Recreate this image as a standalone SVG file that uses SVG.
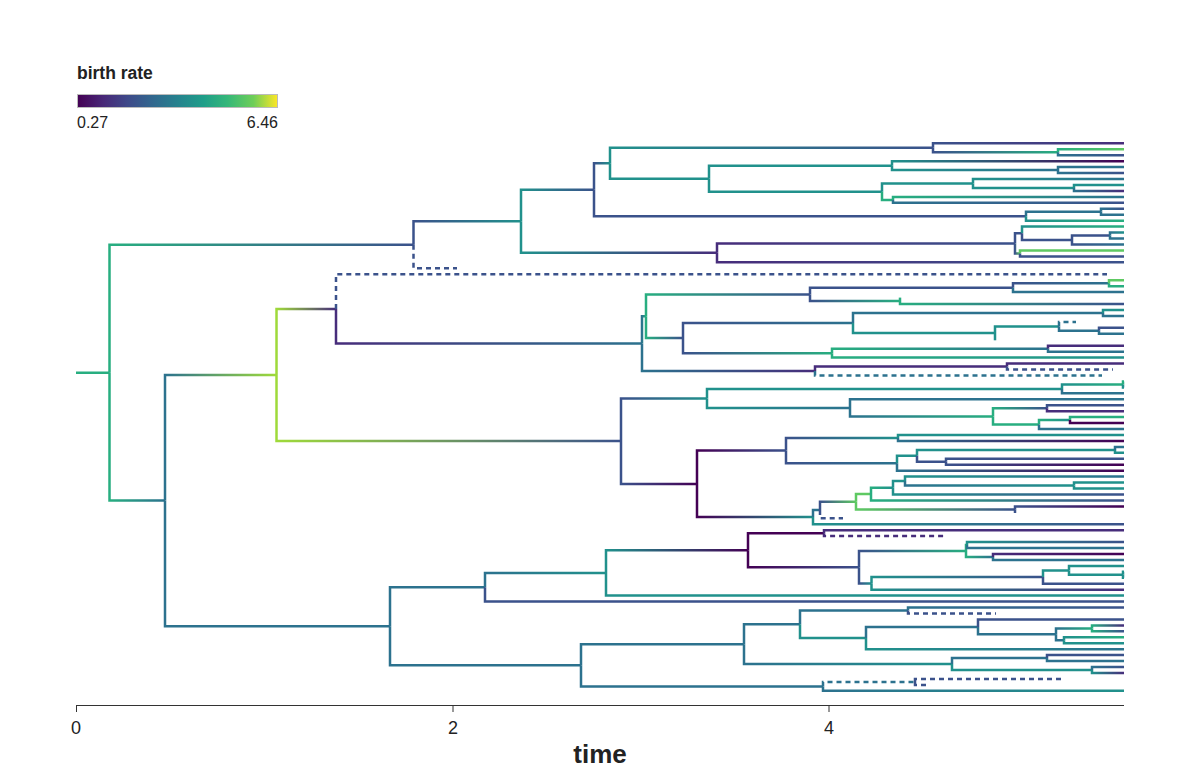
<svg xmlns="http://www.w3.org/2000/svg" width="1200" height="768" viewBox="0 0 1200 768">
<style>
.b{fill:none;stroke-width:2.5;stroke-linejoin:miter;stroke-linecap:butt}
.d{stroke-dasharray:5 4}
.t{font-family:"Liberation Sans",Arial,sans-serif;fill:#222}
.c0{stroke:#440154}.c1{stroke:#472d7b}.c2{stroke:#3b528b}.c3{stroke:#2c728e}.c4{stroke:#21918c}.c5{stroke:#28ae80}.c6{stroke:#5ec962}
</style>
<defs>
<linearGradient id="vir" x1="0" x2="1"><stop offset="0" stop-color="#440154"/><stop offset="0.13" stop-color="#482878"/><stop offset="0.25" stop-color="#3e4989"/><stop offset="0.38" stop-color="#31688e"/><stop offset="0.5" stop-color="#26828e"/><stop offset="0.63" stop-color="#1f9e89"/><stop offset="0.75" stop-color="#35b779"/><stop offset="0.88" stop-color="#6ece58"/><stop offset="1" stop-color="#fde725"/></linearGradient>
<linearGradient id="g52"><stop offset="0" stop-color="#28ae80"/><stop offset="1" stop-color="#3b528b"/></linearGradient>
<linearGradient id="g53"><stop offset="0" stop-color="#28ae80"/><stop offset="1" stop-color="#2c728e"/></linearGradient>
<linearGradient id="g54"><stop offset="0" stop-color="#28ae80"/><stop offset="1" stop-color="#21918c"/></linearGradient>
<linearGradient id="g51"><stop offset="0" stop-color="#28ae80"/><stop offset="1" stop-color="#472d7b"/></linearGradient>
<linearGradient id="g56"><stop offset="0" stop-color="#28ae80"/><stop offset="1" stop-color="#5ec962"/></linearGradient>
<linearGradient id="g24"><stop offset="0" stop-color="#3b528b"/><stop offset="1" stop-color="#21918c"/></linearGradient>
<linearGradient id="g23"><stop offset="0" stop-color="#3b528b"/><stop offset="1" stop-color="#2c728e"/></linearGradient>
<linearGradient id="g25"><stop offset="0" stop-color="#3b528b"/><stop offset="1" stop-color="#28ae80"/></linearGradient>
<linearGradient id="g26"><stop offset="0" stop-color="#3b528b"/><stop offset="1" stop-color="#5ec962"/></linearGradient>
<linearGradient id="g21"><stop offset="0" stop-color="#3b528b"/><stop offset="1" stop-color="#472d7b"/></linearGradient>
<linearGradient id="g20"><stop offset="0" stop-color="#3b528b"/><stop offset="1" stop-color="#440154"/></linearGradient>
<linearGradient id="g42"><stop offset="0" stop-color="#21918c"/><stop offset="1" stop-color="#3b528b"/></linearGradient>
<linearGradient id="g41"><stop offset="0" stop-color="#21918c"/><stop offset="1" stop-color="#472d7b"/></linearGradient>
<linearGradient id="g40"><stop offset="0" stop-color="#21918c"/><stop offset="1" stop-color="#440154"/></linearGradient>
<linearGradient id="g43"><stop offset="0" stop-color="#21918c"/><stop offset="1" stop-color="#2c728e"/></linearGradient>
<linearGradient id="g45"><stop offset="0" stop-color="#21918c"/><stop offset="1" stop-color="#28ae80"/></linearGradient>
<linearGradient id="g32"><stop offset="0" stop-color="#2c728e"/><stop offset="1" stop-color="#3b528b"/></linearGradient>
<linearGradient id="g31"><stop offset="0" stop-color="#2c728e"/><stop offset="1" stop-color="#472d7b"/></linearGradient>
<linearGradient id="g30"><stop offset="0" stop-color="#2c728e"/><stop offset="1" stop-color="#440154"/></linearGradient>
<linearGradient id="g34"><stop offset="0" stop-color="#2c728e"/><stop offset="1" stop-color="#21918c"/></linearGradient>
<linearGradient id="g35"><stop offset="0" stop-color="#2c728e"/><stop offset="1" stop-color="#28ae80"/></linearGradient>
<linearGradient id="g37"><stop offset="0" stop-color="#2c728e"/><stop offset="1" stop-color="#9fda3a"/></linearGradient>
<linearGradient id="g12"><stop offset="0" stop-color="#472d7b"/><stop offset="1" stop-color="#3b528b"/></linearGradient>
<linearGradient id="g13"><stop offset="0" stop-color="#472d7b"/><stop offset="1" stop-color="#2c728e"/></linearGradient>
<linearGradient id="g10"><stop offset="0" stop-color="#472d7b"/><stop offset="1" stop-color="#440154"/></linearGradient>
<linearGradient id="g71"><stop offset="0" stop-color="#9fda3a"/><stop offset="1" stop-color="#472d7b"/></linearGradient>
<linearGradient id="g72"><stop offset="0" stop-color="#9fda3a"/><stop offset="1" stop-color="#3b528b"/></linearGradient>
<linearGradient id="g02"><stop offset="0" stop-color="#440154"/><stop offset="1" stop-color="#3b528b"/></linearGradient>
<linearGradient id="g04"><stop offset="0" stop-color="#440154"/><stop offset="1" stop-color="#21918c"/></linearGradient>
<linearGradient id="g62"><stop offset="0" stop-color="#5ec962"/><stop offset="1" stop-color="#3b528b"/></linearGradient>
</defs>
<rect width="1200" height="768" fill="#ffffff"/>
<g id="legend">
<text class="t" x="77" y="79" font-size="17.5" font-weight="bold">birth rate</text>
<rect x="77.5" y="94.5" width="200" height="13" fill="url(#vir)" stroke="#bbbbbb" stroke-width="1"/>
<text class="t" x="77" y="128" font-size="16">0.27</text>
<text class="t" x="278" y="128" font-size="16" text-anchor="end">6.46</text>
</g>
<g id="axis">
<path d="M76 705.5H1124M76.5 705V712M453 705V712M829 705V712" stroke="#333" stroke-width="1" fill="none"/>
<text class="t" x="76" y="734" font-size="18" text-anchor="middle">0</text>
<text class="t" x="453" y="734" font-size="18" text-anchor="middle">2</text>
<text class="t" x="829" y="734" font-size="18" text-anchor="middle">4</text>
<text class="t" x="600" y="763" font-size="26" font-weight="bold" text-anchor="middle">time</text>
</g>
<g id="connectors" class="b">
<path class="c5" d="M76 372.7H109.5"/>
<path stroke="url(#g52)" d="M109.5 372.7V244.8H413.5"/>
<path stroke="url(#g53)" d="M109.5 372.7V500.6H165"/>
<g id="clade-top">
<path stroke="url(#g24)" d="M413.5 244.8V221.3H521"/>
<path class="c2 d" d="M413.5 244.8V268.3H457"/>
<path stroke="url(#g42)" d="M521 221.3V189.7H594"/>
<path stroke="url(#g41)" d="M521 221.3V252.8H717"/>
<path stroke="url(#g24)" d="M594 189.7V163.2H610"/>
<path class="c2" d="M594 189.7V216.2H1026"/>
<path stroke="url(#g42)" d="M610 163.2V147.8H933"/>
<path class="c4" d="M610 163.2V178.7H709"/>
<path stroke="url(#g21)" d="M933 147.8V143.3H1124"/>
<path stroke="url(#g25)" d="M933 147.8V152.3H1058"/>
<path stroke="url(#g56)" d="M1058 152.3V149.3H1124"/>
<path stroke="url(#g32)" d="M1058 152.3V155.2H1124"/>
<path class="c4" d="M709 178.7V165.7H892"/>
<path class="c4" d="M709 178.7V191.7H882"/>
<path stroke="url(#g40)" d="M892 165.7V161.2H1124"/>
<path stroke="url(#g43)" d="M892 165.7V170.1H1058"/>
<path class="c3" d="M1058 170.1V167.1H1124"/>
<path stroke="url(#g32)" d="M1058 170.1V173.1H1124"/>
<path class="c4" d="M882 191.7V183.5H973"/>
<path class="c5" d="M882 191.7V199.9H893"/>
<path stroke="url(#g43)" d="M973 183.5V179H1124"/>
<path class="c4" d="M973 183.5V188H1074"/>
<path class="c4" d="M1074 188V185H1124"/>
<path stroke="url(#g31)" d="M1074 188V190.9H1124"/>
<path stroke="url(#g53)" d="M893 199.9V196.9H1124"/>
<path stroke="url(#g32)" d="M893 199.9V202.8H1124"/>
<path class="c3" d="M1026 216.2V211.8H1101"/>
<path stroke="url(#g45)" d="M1026 216.2V220.7H1124"/>
<path stroke="url(#g32)" d="M1101 211.8V208.8H1124"/>
<path class="c3" d="M1101 211.8V214.7H1124"/>
<path stroke="url(#g12)" d="M717 252.8V243.4H1015"/>
<path stroke="url(#g12)" d="M717 252.8V262.3H1124"/>
<path class="c2" d="M1015 243.4V233.3H1022"/>
<path stroke="url(#g26)" d="M1015 243.4V253.4H1020"/>
<path class="c6" d="M1020 253.4V250.4H1124"/>
<path class="c2" d="M1020 253.4V256.4H1124"/>
<path stroke="url(#g45)" d="M1022 233.3V226.6H1124"/>
<path class="c2" d="M1022 233.3V240H1072"/>
<path class="c2" d="M1072 240V235.6H1110"/>
<path stroke="url(#g23)" d="M1072 240V244.5H1124"/>
<path stroke="url(#g34)" d="M1110 235.6V232.6H1124"/>
<path class="c3" d="M1110 235.6V238.5H1124"/>
</g>
<g id="clade-middle">
<path stroke="url(#g37)" d="M165 500.6V375H276.5"/>
<path stroke="url(#g71)" d="M276.5 375V308.9H336"/>
<path stroke="url(#g72)" d="M276.5 375V441.1H621"/>
<path class="c2 d" d="M336 308.9V274.2H1107"/>
<path stroke="url(#g13)" d="M336 308.9V343.6H642"/>
<path stroke="url(#g35)" d="M642 343.6V316.2H646"/>
<path stroke="url(#g31)" d="M642 343.6V371H815"/>
<path stroke="url(#g52)" d="M646 316.2V294.4H810"/>
<path stroke="url(#g52)" d="M646 316.2V338.1H683"/>
<path class="c2" d="M810 294.4V287.7H1013"/>
<path stroke="url(#g25)" d="M810 294.4V301H900"/>
<path stroke="url(#g23)" d="M1013 287.7V283.2H1109"/>
<path class="c3" d="M1013 287.7V292.1H1124"/>
<path class="c6" d="M1109 283.2V280.2H1124"/>
<path class="c5" d="M1109 283.2V286.2H1124"/>
<path class="c5" d="M900 301V297.6"/>
<path stroke="url(#g52)" d="M900 301V304H1124"/>
<path stroke="url(#g23)" d="M683 338.1V323H853"/>
<path stroke="url(#g25)" d="M683 338.1V353.2H832"/>
<path class="c3" d="M853 323V313H1103"/>
<path class="c4" d="M853 323V333H995"/>
<path class="c4" d="M1103 313V310H1124"/>
<path class="c3" d="M1103 313V315.9H1124"/>
<path class="c4" d="M995 333V326.4H1059"/>
<path class="c4" d="M995 333V340.3"/>
<path class="c3 d" d="M1059 326.4V321.9H1076"/>
<path class="c3" d="M1059 326.4V330.8H1099"/>
<path class="c2" d="M1099 330.8V327.8H1124"/>
<path class="c3" d="M1099 330.8V333.8H1124"/>
<path stroke="url(#g53)" d="M832 353.2V348.7H1048"/>
<path stroke="url(#g54)" d="M832 353.2V357.6H1124"/>
<path class="c1" d="M1048 348.7V345.7H1124"/>
<path class="c3" d="M1048 348.7V351.7H1124"/>
<path class="c1" d="M815 371V366.6H1007"/>
<path class="c3 d" d="M815 371V375.5H1102"/>
<path class="c1" d="M1007 366.6V363.6H1124"/>
<path class="c2 d" d="M1007 366.6V369.5H1113"/>
<path stroke="url(#g24)" d="M621 441.1V398.4H707"/>
<path stroke="url(#g20)" d="M621 441.1V483.9H697"/>
<path class="c4" d="M707 398.4V388.9H1062"/>
<path stroke="url(#g43)" d="M707 398.4V407.9H850"/>
<path stroke="url(#g45)" d="M1062 388.9V384.4H1123"/>
<path class="c5" d="M1123 384.4V381.4H1124"/>
<path class="c4" d="M1123 384.4V387.4H1124"/>
<path class="c3" d="M1062 388.9V393.3H1124"/>
<path class="c3" d="M850 407.9V399.3H1124"/>
<path stroke="url(#g35)" d="M850 407.9V416.4H993"/>
<path stroke="url(#g52)" d="M993 416.4V408.2H1047"/>
<path class="c5" d="M993 416.4V424.6H1039"/>
<path class="c2" d="M1047 408.2V405.2H1124"/>
<path class="c1" d="M1047 408.2V411.2H1124"/>
<path stroke="url(#g54)" d="M1039 424.6V420.1H1070"/>
<path class="c3" d="M1039 424.6V429H1124"/>
<path class="c5" d="M1070 420.1V417.1H1124"/>
<path class="c0" d="M1070 420.1V423.1H1124"/>
<path stroke="url(#g02)" d="M697 483.9V450.6H786"/>
<path stroke="url(#g04)" d="M697 483.9V517.1H813"/>
<path stroke="url(#g24)" d="M786 450.6V438H898"/>
<path stroke="url(#g23)" d="M786 450.6V463.3H897"/>
<path class="c4" d="M898 438V435H1124"/>
<path stroke="url(#g30)" d="M898 438V440.9H1124"/>
<path class="c4" d="M897 463.3V455.8H917"/>
<path stroke="url(#g30)" d="M897 463.3V470.7H1124"/>
<path class="c4" d="M917 455.8V449.9H1115"/>
<path class="c2" d="M917 455.8V461.8H946"/>
<path class="c3" d="M1115 449.9V446.9H1124"/>
<path class="c4" d="M1115 449.9V452.8H1124"/>
<path class="c2" d="M946 461.8V458.8H1124"/>
<path stroke="url(#g20)" d="M946 461.8V464.7H1124"/>
<path class="c3" d="M813 517.1V510H820"/>
<path stroke="url(#g42)" d="M813 517.1V524.2H1124"/>
<path stroke="url(#g26)" d="M820 510V501.7H856"/>
<path class="c2 d" d="M820 510V518.3H843"/>
<path class="c6" d="M856 501.7V494.1H871"/>
<path stroke="url(#g62)" d="M856 501.7V509.4H1015"/>
<path stroke="url(#g54)" d="M871 494.1V487.8H893"/>
<path stroke="url(#g52)" d="M871 494.1V500.4H1124"/>
<path class="c4" d="M893 487.8V481.1H905"/>
<path stroke="url(#g42)" d="M893 487.8V494.5H1124"/>
<path stroke="url(#g43)" d="M905 481.1V476.6H1124"/>
<path stroke="url(#g34)" d="M905 481.1V485.6H1074"/>
<path class="c4" d="M1074 485.6V482.6H1124"/>
<path class="c4" d="M1074 485.6V488.5H1124"/>
<path stroke="url(#g20)" d="M1015 509.4V506.4H1124"/>
<path class="c2" d="M1015 509.4V513"/>
</g>
<g id="clade-bottom">
<path class="c3" d="M165 500.6V626.3H390"/>
<path class="c3" d="M390 626.3V587.3H485"/>
<path class="c3" d="M390 626.3V665.3H581"/>
<path stroke="url(#g34)" d="M485 587.3V572.9H606"/>
<path class="c2" d="M485 587.3V601.6H1124"/>
<path stroke="url(#g40)" d="M606 572.9V550.2H748"/>
<path class="c4" d="M606 572.9V595.6H1124"/>
<path class="c0" d="M748 550.2V533.2H824"/>
<path stroke="url(#g02)" d="M748 550.2V567.2H859"/>
<path class="c1" d="M824 533.2V530.2H1124"/>
<path class="c1 d" d="M824 533.2V536.1H946"/>
<path stroke="url(#g25)" d="M859 567.2V551H966"/>
<path stroke="url(#g24)" d="M859 567.2V583.4H871.5"/>
<path class="c5" d="M966 551V545.1H967"/>
<path stroke="url(#g53)" d="M966 551V557H993"/>
<path stroke="url(#g42)" d="M967 545.1V542.1H1124"/>
<path class="c3" d="M967 545.1V548H1124"/>
<path stroke="url(#g10)" d="M993 557V554H1124"/>
<path class="c3" d="M993 557V559.9H1124"/>
<path stroke="url(#g42)" d="M871.5 583.4V577H1043"/>
<path stroke="url(#g41)" d="M871.5 583.4V589.7H1124"/>
<path class="c4" d="M1043 577V570.4H1069"/>
<path class="c2" d="M1043 577V583.7H1124"/>
<path class="c4" d="M1069 570.4V565.9H1124"/>
<path class="c4" d="M1069 570.4V574.8H1123"/>
<path class="c4" d="M1123 574.8V571.8H1124"/>
<path class="c4" d="M1123 574.8V577.8H1124"/>
<path class="c3" d="M581 665.3V644.2H744"/>
<path class="c3" d="M581 665.3V686.4H823"/>
<path class="c3" d="M744 644.2V624.3H800"/>
<path stroke="url(#g34)" d="M744 644.2V664.1H952"/>
<path class="c3" d="M800 624.3V610.5H908"/>
<path class="c4" d="M800 624.3V638H866"/>
<path stroke="url(#g32)" d="M908 610.5V607.5H1124"/>
<path class="c2 d" d="M908 610.5V613.5H996"/>
<path class="c3" d="M866 638V626.9H978"/>
<path stroke="url(#g43)" d="M866 638V649.2H1124"/>
<path class="c2" d="M978 626.9V619.4H1124"/>
<path class="c3" d="M978 626.9V634.3H1056"/>
<path stroke="url(#g35)" d="M1056 634.3V628.4H1092"/>
<path class="c3" d="M1056 634.3V640.3H1064"/>
<path stroke="url(#g51)" d="M1092 628.4V625.4H1124"/>
<path stroke="url(#g52)" d="M1092 628.4V631.3H1124"/>
<path stroke="url(#g45)" d="M1064 640.3V637.3H1124"/>
<path class="c4" d="M1064 640.3V643.2H1124"/>
<path class="c3" d="M952 664.1V658.1H1047"/>
<path class="c4" d="M952 664.1V670H1092"/>
<path class="c2" d="M1047 658.1V655.1H1124"/>
<path class="c3" d="M1047 658.1V661.1H1124"/>
<path stroke="url(#g32)" d="M1092 670V667H1124"/>
<path stroke="url(#g41)" d="M1092 670V673H1124"/>
<path class="c3 d" d="M823 686.4V681.9H915"/>
<path stroke="url(#g34)" d="M823 686.4V690.8H1124"/>
<path class="c2 d" d="M915 681.9V678.9H1063"/>
<path class="c2 d" d="M915 681.9V684.9H927"/>
</g>
</g>
</svg>
